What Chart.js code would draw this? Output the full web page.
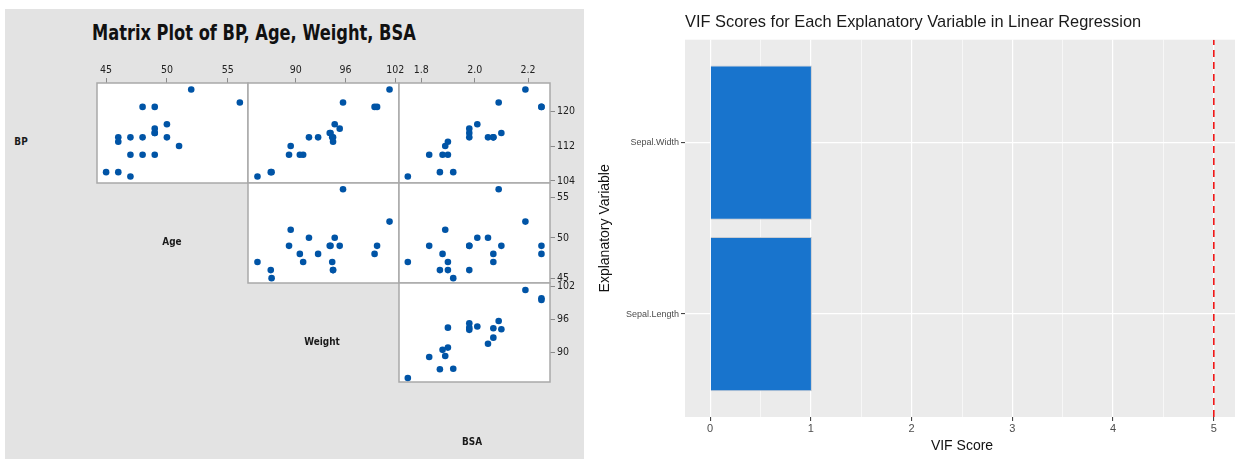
<!DOCTYPE html>
<html><head><meta charset="utf-8">
<script src="https://cdn.jsdelivr.net/npm/chart.js@4.4.1/dist/chart.umd.min.js"></script>
<style>
html,body{margin:0;padding:0;background:#fff;overflow:hidden;width:1235px;height:459px;position:relative;}
#leftbg{position:absolute;left:5px;top:9px;width:579px;height:450px;background:#e3e3e3;}
canvas{position:absolute;}
.diag{position:absolute;font-family:"DejaVu Sans Condensed","DejaVu Sans",sans-serif;font-weight:bold;font-size:11px;color:#1a1a1a;transform:translate(-50%,-50%) scaleX(0.9);white-space:nowrap;}
#ltitle{position:absolute;left:92px;top:21px;font-family:"DejaVu Sans Condensed","DejaVu Sans",sans-serif;font-weight:bold;font-size:21px;color:#111;white-space:nowrap;transform:scaleX(0.86);transform-origin:0 50%;}
</style></head><body>
<div id="leftbg"></div>
<div id="ltitle">Matrix Plot of BP, Age, Weight, BSA</div>
<script>
// ---- Data: blood pressure study (20 patients) ----
const bp     = [105,115,116,117,112,121,121,110,110,114,114,115,114,106,125,114,106,113,110,122];
const age    = [47,49,49,50,51,48,49,47,49,48,47,49,50,45,52,46,46,46,48,56];
const weight = [85.4,94.2,95.3,94.7,89.4,99.5,99.8,90.9,89.2,92.7,94.4,94.1,91.6,87.1,101.3,94.5,87.0,94.5,90.5,95.7];
const bsa    = [1.75,2.10,1.98,2.01,1.89,2.25,2.25,1.90,1.83,2.07,2.07,1.98,2.05,1.92,2.19,1.98,1.87,1.90,1.88,2.09];
const matrixVars = ['BP','Age','Weight','BSA'];
const bpTicks = [104,112,120];
const ageTicks = [45,50,55];
const weightTicks = [90,96,102];
const bsaTicks = [1.8,2.0,2.2];

// ---- Data: VIF scores ----
const vifCategories = ['Sepal.Length','Sepal.Width'];
const vifScores = [1.01, 1.01];
const vifThreshold = 5;
const vifTicks = [0,1,2,3,4,5];
const vifTitle = 'VIF Scores for Each Explanatory Variable in Linear Regression';

Chart.defaults.animation = false;

// ---------------- Matrix plot ----------------
const colLeft = [96.5, 247.5, 398.5];
const colW = 151;
const rowTop = [82.5, 183, 283];
const rowH = [100, 100, 99];
const LFONT = '"DejaVu Sans Condensed","DejaVu Sans",sans-serif';

const panelBox = {
  id: 'panelBox',
  beforeDraw(chart) {
    const a = chart.chartArea, ctx = chart.ctx;
    ctx.save(); ctx.fillStyle = '#ffffff';
    ctx.fillRect(a.left, a.top, a.right - a.left, a.bottom - a.top);
    ctx.restore();
  },
  afterDraw(chart) {
    const a = chart.chartArea, ctx = chart.ctx;
    ctx.save(); ctx.strokeStyle = '#a9a9a9'; ctx.lineWidth = 1.5;
    ctx.strokeRect(a.left, a.top, a.right - a.left, a.bottom - a.top);
    ctx.restore();
  }
};

function fmt(ticks) {
  const dec = ticks.some(v => !Number.isInteger(v)) ? 1 : 0;
  return v => Number(v).toFixed(dec);
}

function panel(col, row, xv, yv, xr, yr, xt, yt) {
  const P = 30;
  const L = colLeft[col], T = rowTop[row], W = colW, H = rowH[row];
  const c = document.createElement('canvas');
  c.width = Math.round(W + 2 * P); c.height = Math.round(H + 2 * P);
  c.style.left = (L - P) + 'px'; c.style.top = (T - P) + 'px';
  document.body.appendChild(c);
  const padR = c.width - P - W, padB = c.height - P - H;
  const pts = xv.map((x, i) => ({ x: x, y: yv[i] }));
  const tickFont = { family: LFONT, size: 10.5 };
  new Chart(c, {
    type: 'scatter',
    data: { datasets: [{ data: pts, pointRadius: 3.3, pointHoverRadius: 3.3, backgroundColor: '#0054a6', borderWidth: 0 }] },
    options: {
      responsive: false, animation: false,
      layout: { padding: { left: P, right: yt ? 0 : padR, top: xt ? 0 : P, bottom: padB } },
      plugins: { legend: { display: false }, tooltip: { enabled: false } },
      scales: {
        x: {
          type: 'linear', position: 'top', min: xr[0], max: xr[1], display: !!xt, offset: false,
          afterBuildTicks: s => { if (xt) s.ticks = xt.map(v => ({ value: v })); },
          afterFit: s => { if (xt) { s.height = P; s.paddingLeft = 0; s.paddingRight = 0; } else { s.height = 0; s.width = 0; } },
          grid: { drawOnChartArea: false, drawTicks: true, tickLength: 5, color: '#8a8a8a', lineWidth: 1 },
          border: { display: false },
          ticks: { padding: 1, font: tickFont, color: '#222', maxRotation: 0, autoSkip: false, callback: xt ? fmt(xt) : undefined }
        },
        y: {
          type: 'linear', position: 'right', min: yr[0], max: yr[1], display: !!yt, offset: false,
          afterBuildTicks: s => { if (yt) s.ticks = yt.map(v => ({ value: v })); },
          afterFit: s => { if (yt) { s.width = padR; s.paddingTop = 0; s.paddingBottom = 0; } else { s.width = 0; s.height = 0; } },
          grid: { drawOnChartArea: false, drawTicks: true, tickLength: 5, color: '#8a8a8a', lineWidth: 1 },
          border: { display: false },
          ticks: { padding: 2, font: tickFont, color: '#222', autoSkip: false, callback: yt ? fmt(yt) : undefined }
        }
      }
    },
    plugins: [panelBox]
  });
}

const rBP = [103.5, 126.5];
const rAgeX = [44.25, 56.67], rAgeY = [44.4, 56.78];
const rWtX = [84.26, 102.44], rWtY = [84.7, 102.55];
const rBSA = [1.717, 2.282];

panel(0, 0, age, bp, rAgeX, rBP, ageTicks, null);
panel(1, 0, weight, bp, rWtX, rBP, weightTicks, null);
panel(2, 0, bsa, bp, rBSA, rBP, bsaTicks, bpTicks);
panel(1, 1, weight, age, rWtX, rAgeY, null, null);
panel(2, 1, bsa, age, rBSA, rAgeY, null, ageTicks);
panel(2, 2, bsa, weight, rBSA, rWtY, null, weightTicks);

// diagonal variable labels
const diagPos = [[20.5, 141], [172, 241], [322, 341], [472, 441]];
matrixVars.forEach((n, i) => {
  const d = document.createElement('div');
  d.className = 'diag'; d.textContent = n;
  d.style.left = diagPos[i][0] + 'px'; d.style.top = diagPos[i][1] + 'px';
  document.body.appendChild(d);
});

// ---------------- VIF bar chart ----------------
const RFONT = '"Liberation Sans", Arial, sans-serif';
const rc = document.createElement('canvas');
rc.width = 644; rc.height = 459;
rc.style.left = '595px'; rc.style.top = '0px';
document.body.appendChild(rc);

const panelBg = {
  id: 'panelBg',
  beforeDraw(chart) {
    const a = chart.chartArea, ctx = chart.ctx;
    ctx.save(); ctx.fillStyle = '#ebebeb';
    ctx.fillRect(a.left, a.top, a.right - a.left, a.bottom - a.top);
    ctx.restore();
  }
};

const xGridVals = [];
vifTicks.forEach((v, i) => { xGridVals.push(v); if (i < vifTicks.length - 1) xGridVals.push(v + 0.5); });

new Chart(rc, {
  type: 'bar',
  data: {
    datasets: [
      {
        type: 'bar', indexAxis: 'y',
        data: vifCategories.map((c, i) => ({ x: vifScores[i], y: i + 1 })),
        backgroundColor: '#1874CD', borderColor: '#c8ccd2', borderWidth: 1,
        barPercentage: 0.9, categoryPercentage: 1, order: 2
      },
      {
        type: 'line',
        data: [{ x: vifThreshold, y: 0.4 }, { x: vifThreshold, y: 2.6 }],
        borderColor: '#f01818', borderWidth: 1.6, borderDash: [7, 5],
        pointRadius: 0, fill: false, order: 1
      }
    ]
  },
  options: {
    responsive: false, animation: false,
    layout: { padding: 0 },
    plugins: {
      legend: { display: false }, tooltip: { enabled: false },
      title: {
        display: true, text: vifTitle, align: 'start', fullSize: false,
        font: { family: RFONT, size: 16.4, weight: 'normal' }, color: '#1a1a1a',
        padding: { top: 13, bottom: 7 }
      }
    },
    scales: {
      x: {
        type: 'linear', min: -0.25, max: 5.25, offset: false,
        afterBuildTicks: s => { s.ticks = xGridVals.map(v => ({ value: v })); },
        afterFit: s => { s.height = 42; },
        grid: {
          offset: false,
          color: '#ffffff',
          lineWidth: c => (c.tick && Number.isInteger(c.tick.value)) ? 1.2 : 0.6,
          tickColor: c => (c.tick && Number.isInteger(c.tick.value)) ? '#333333' : 'rgba(0,0,0,0)',
          tickLength: 4, tickWidth: 1
        },
        border: { display: false },
        ticks: {
          autoSkip: false, maxRotation: 0, padding: 1, color: '#4d4d4d',
          font: { family: RFONT, size: 11 },
          callback: v => Number.isInteger(v) ? String(v) : ''
        },
        title: { display: true, text: 'VIF Score', color: '#111', font: { family: RFONT, size: 14 }, padding: { top: 2, bottom: 4 } }
      },
      y: {
        type: 'linear', min: 0.4, max: 2.6, offset: false,
        afterBuildTicks: s => { s.ticks = vifCategories.map((c, i) => ({ value: i + 1 })); },
        afterFit: s => { s.width = 90; },
        grid: { offset: false, color: '#ffffff', lineWidth: 1.2, tickColor: '#333333', tickLength: 4, tickWidth: 1 },
        border: { display: false },
        ticks: {
          autoSkip: false, padding: 2, color: '#4d4d4d',
          font: { family: RFONT, size: 9 },
          callback: v => vifCategories[v - 1]
        },
        title: { display: true, text: 'Explanatory Variable', color: '#111', font: { family: RFONT, size: 14 }, padding: { top: 2, bottom: 2 } }
      }
    }
  },
  plugins: [panelBg]
});
</script>
</body></html>
